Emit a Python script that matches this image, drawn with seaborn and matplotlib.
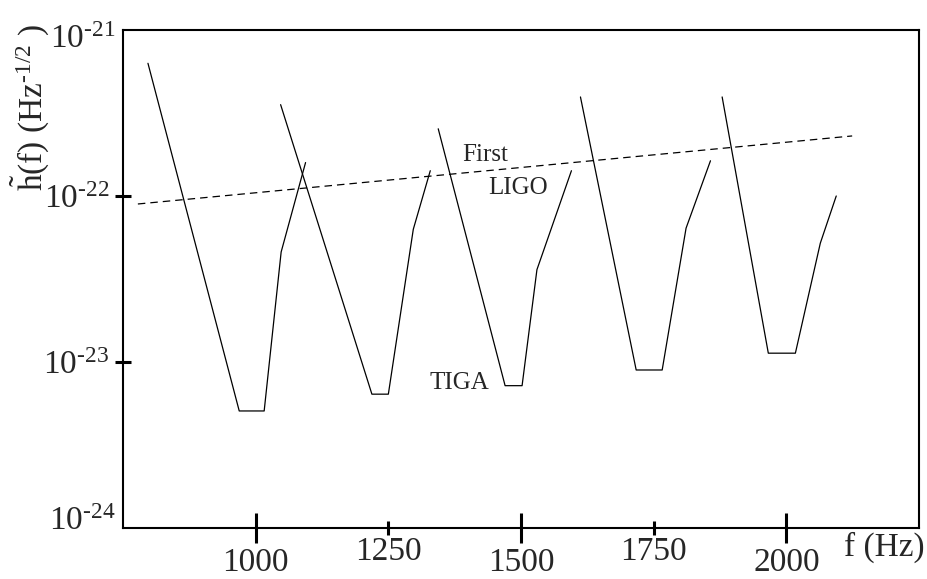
import numpy as np
import pandas as pd
import seaborn as sns
import matplotlib
matplotlib.use('Agg')
import matplotlib.pyplot as plt
from matplotlib.transforms import ScaledTranslation

# TIGA resonant-sphere bands: f (Hz) and strain noise h(f) per band
tiga_band = [1, 1, 1, 1, 1,
             2, 2, 2, 2, 2,
             3, 3, 3, 3, 3,
             4, 4, 4, 4, 4,
             5, 5, 5, 5, 5]
tiga_freq = [797, 969, 1016, 1048, 1094,
             1047, 1219, 1250, 1297, 1329,
             1344, 1470, 1502, 1530, 1595,
             1612, 1717, 1766, 1811, 1857,
             1879, 1966, 2017, 2064, 2094]
tiga_h = [6.3e-22, 5.07e-24, 5.07e-24, 4.6e-23, 1.59e-22,
          3.55e-22, 6.4e-24, 6.4e-24, 6.3e-23, 1.42e-22,
          2.54e-22, 7.2e-24, 7.2e-24, 3.6e-23, 1.42e-22,
          3.95e-22, 8.95e-24, 8.95e-24, 6.4e-23, 1.63e-22,
          3.95e-22, 1.13e-23, 1.13e-23, 5.2e-23, 1.0e-22]

# First LIGO sensitivity
ligo_freq = [778, 2124]
ligo_h = [8.95e-23, 2.3e-22]

x_major = [1000, 1500, 2000]
x_minor = [1250, 1750]
y_ticks = [1e-24, 1e-23, 1e-22, 1e-21]
y_labels = [r'$10^{\text{-24}}$', r'$10^{\text{-23}}$', r'$10^{\text{-22}}$', r'$10^{\text{-21}}$']

tiga = pd.DataFrame({'band': tiga_band, 'f': tiga_freq, 'h': tiga_h})
ligo = pd.DataFrame({'f': ligo_freq, 'h': ligo_h})

sns.set_style('white')
plt.rcParams['font.family'] = ['Liberation Serif', 'DejaVu Serif']
plt.rcParams['mathtext.fontset'] = 'custom'
plt.rcParams['mathtext.rm'] = 'Liberation Serif'
plt.rcParams['mathtext.it'] = 'Liberation Serif:italic'

fig = plt.figure(figsize=(9.27, 5.79), dpi=100)
ax = fig.add_axes([0.1327, 0.0881, 0.8587, 0.8601])

sns.lineplot(data=tiga, x='f', y='h', units='band', estimator=None, sort=False,
             color='black', lw=0.9, ax=ax)
sns.lineplot(data=ligo, x='f', y='h', color='black', lw=0.9, ax=ax,
             dashes=False, linestyle=(0, (6, 4)))

ax.set_yscale('log')
ax.set_xlim(750, 2250)
ax.set_ylim(1e-24, 1e-21)
ax.set_xlabel('')
ax.set_ylabel('')

for s in ax.spines.values():
    s.set_color('black')
    s.set_linewidth(1.5)

ax.set_xticks(x_major)
ax.set_xticklabels([str(v) for v in x_major])
ax.set_xticks(x_minor, minor=True)
ax.set_xticklabels([str(v) for v in x_minor], minor=True)
ax.tick_params(axis='x', which='major', direction='inout', length=22, width=2.2,
               labelsize=24, pad=3, bottom=True, color='black')
ax.tick_params(axis='x', which='minor', direction='inout', length=10, width=2.2,
               labelsize=24, pad=1, bottom=True, color='black')

ax.set_yticks(y_ticks)
ax.set_yticklabels(y_labels)
ax.yaxis.set_minor_locator(matplotlib.ticker.NullLocator())
ax.tick_params(axis='y', which='major', direction='inout', length=12, width=2.2,
               labelsize=24, pad=4, left=True, color='black')
yt = ax.yaxis.get_major_ticks()
for i, dy in ((0, 10), (len(yt) - 1, -6)):
    yt[i].tick1line.set_visible(False)
    yt[i].set_pad(-0.5)
    lab = yt[i].label1
    lab.set_transform(lab.get_transform() + ScaledTranslation(0, dy / 100, fig.dpi_scale_trans))

ax.text(1433, 1.77e-22, 'First', fontsize=18, ha='center', va='center')
ax.text(1494, 1.12e-22, 'LIGO', fontsize=18, ha='center', va='center')
ax.text(1383, 7.5e-24, 'TIGA', fontsize=18, ha='center', va='center')

fig.text(0.997, 0.055, 'f (Hz)', fontsize=24, ha='right', va='center')
fig.text(0.032, 0.815, r'$\tilde{\mathrm{h}}$(f) (Hz$^{\text{-1/2}}$ )', fontsize=24,
         rotation=90, ha='center', va='center')

fig.savefig('out.png', dpi=100)
